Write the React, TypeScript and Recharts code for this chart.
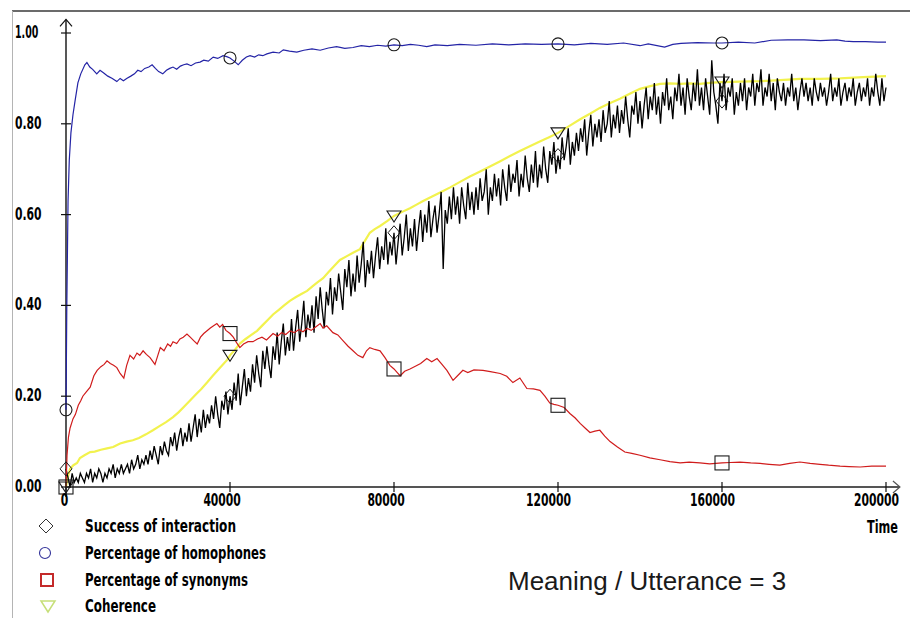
import React from 'react';
import { ComposedChart, Line, Scatter, XAxis, YAxis, ReferenceLine } from 'recharts';

// Axis ticks and marker positions
const timeTicks = [0, 40000, 80000, 120000, 160000, 200000];
const valueTicks = [0, 0.2, 0.4, 0.6, 0.8, 1.0];
const markerTimes = [0, 40000, 80000, 120000, 160000];

// Success of interaction, sampled every 500 time steps
const successStep = 500;
const successValues = [
  0.04, 0.02, 0.00, 0.03, 0.01, 0.02, 0.01, 0.03, 0.02, 0.01,
  0.03, 0.02, 0.04, 0.01, 0.03, 0.02, 0.04, 0.03, 0.01, 0.03,
  0.02, 0.04, 0.03, 0.05, 0.02, 0.04, 0.03, 0.05, 0.03, 0.04,
  0.05, 0.03, 0.06, 0.04, 0.05, 0.07, 0.04, 0.06, 0.05, 0.07,
  0.05, 0.08, 0.06, 0.09, 0.07, 0.05, 0.09, 0.07, 0.10, 0.08,
  0.07, 0.11, 0.09, 0.12, 0.08, 0.11, 0.13, 0.09, 0.12, 0.10,
  0.14, 0.10, 0.13, 0.16, 0.11, 0.15, 0.12, 0.17, 0.13, 0.16,
  0.14, 0.18, 0.15, 0.20, 0.16, 0.13, 0.19, 0.17, 0.21, 0.16,
  0.20, 0.17, 0.23, 0.19, 0.25, 0.18, 0.22, 0.26, 0.20, 0.24,
  0.21, 0.27, 0.23, 0.29, 0.25, 0.22, 0.30, 0.26, 0.31, 0.27,
  0.24, 0.31, 0.28, 0.34, 0.27, 0.32, 0.36, 0.29, 0.33, 0.30,
  0.37, 0.30, 0.35, 0.39, 0.32, 0.36, 0.41, 0.33, 0.38, 0.35,
  0.40, 0.34, 0.42, 0.37, 0.44, 0.39, 0.35, 0.43, 0.40, 0.46,
  0.38, 0.44, 0.41, 0.47, 0.43, 0.39, 0.48, 0.44, 0.50, 0.42,
  0.47, 0.43, 0.51, 0.45, 0.49, 0.54, 0.44, 0.50, 0.47, 0.52,
  0.46, 0.51, 0.55, 0.48, 0.53, 0.50, 0.57, 0.49, 0.54, 0.51,
  0.56, 0.49, 0.54, 0.58, 0.51, 0.55, 0.60, 0.52, 0.57, 0.53,
  0.59, 0.52, 0.57, 0.61, 0.54, 0.60, 0.56, 0.63, 0.55, 0.59,
  0.62, 0.56, 0.60, 0.65, 0.48, 0.61, 0.58, 0.64, 0.59, 0.66,
  0.60, 0.64, 0.58, 0.66, 0.62, 0.59, 0.67, 0.61, 0.65, 0.60,
  0.66, 0.61, 0.68, 0.63, 0.65, 0.70, 0.60, 0.66, 0.63, 0.69,
  0.64, 0.68, 0.62, 0.70, 0.66, 0.63, 0.71, 0.65, 0.69, 0.67,
  0.72, 0.64, 0.69, 0.66, 0.73, 0.68, 0.65, 0.71, 0.67, 0.74,
  0.66, 0.71, 0.68, 0.75, 0.70, 0.67, 0.74, 0.71, 0.76, 0.69,
  0.73, 0.70, 0.77, 0.72, 0.75, 0.79, 0.71, 0.76, 0.73, 0.78,
  0.74, 0.79, 0.76, 0.81, 0.73, 0.78, 0.82, 0.75, 0.80, 0.77,
  0.81, 0.76, 0.83, 0.78, 0.80, 0.85, 0.77, 0.82, 0.79, 0.84,
  0.78, 0.83, 0.80, 0.86, 0.81, 0.77, 0.84, 0.82, 0.87, 0.80,
  0.85, 0.79, 0.84, 0.88, 0.81, 0.86, 0.83, 0.89, 0.82, 0.86,
  0.80, 0.87, 0.84, 0.90, 0.83, 0.86, 0.81, 0.88, 0.85, 0.91,
  0.84, 0.88, 0.82, 0.90, 0.86, 0.83, 0.89, 0.85, 0.92, 0.84,
  0.88, 0.83, 0.90, 0.86, 0.82, 0.94, 0.87, 0.84, 0.80, 0.89,
  0.85, 0.91, 0.83, 0.88, 0.86, 0.90, 0.82, 0.87, 0.84, 0.89,
  0.85, 0.90, 0.83, 0.88, 0.86, 0.91, 0.84, 0.89, 0.87, 0.92,
  0.84, 0.88, 0.86, 0.91, 0.85, 0.89, 0.83, 0.90, 0.87, 0.85,
  0.89, 0.84, 0.88, 0.86, 0.91, 0.85, 0.88, 0.83, 0.87, 0.90,
  0.86, 0.89, 0.85, 0.88, 0.84, 0.90, 0.87, 0.85, 0.89, 0.86,
  0.88, 0.84, 0.87, 0.91, 0.85, 0.88, 0.86, 0.90, 0.84, 0.87,
  0.89, 0.85, 0.88, 0.86, 0.90, 0.84, 0.87, 0.89, 0.85, 0.88,
  0.86, 0.90, 0.84, 0.88, 0.86, 0.91, 0.87, 0.84, 0.90, 0.85,
  0.88,
];

// Percentage of homophones: [time, value]
const homophonePoints: [number, number][] = [
  [0, 0.17], [200, 0.40], [500, 0.63], [800, 0.72], [1200, 0.78], [1700, 0.82],
  [2200, 0.85], [2900, 0.89], [3600, 0.91], [4600, 0.93], [5100, 0.935], [5800, 0.925],
  [6500, 0.92], [7500, 0.91], [8300, 0.918], [9200, 0.912], [10200, 0.905], [11300, 0.9],
  [12400, 0.893], [13200, 0.9], [14000, 0.895], [14800, 0.9], [15800, 0.905], [16700, 0.91],
  [17500, 0.918], [18300, 0.915], [19200, 0.922], [20200, 0.925], [21000, 0.93], [21800, 0.922],
  [22600, 0.915], [23600, 0.91], [24500, 0.918], [25300, 0.922], [26100, 0.925], [27000, 0.92],
  [27900, 0.927], [28700, 0.93], [29500, 0.932], [30500, 0.928], [31600, 0.934], [32700, 0.936],
  [33600, 0.94], [34700, 0.938], [35900, 0.947], [37000, 0.944], [38300, 0.95], [39200, 0.948],
  [40000, 0.945], [41000, 0.938], [42000, 0.93], [43000, 0.94], [44000, 0.947], [44900, 0.95],
  [46000, 0.947], [47000, 0.952], [48000, 0.95], [49000, 0.954], [50500, 0.958], [52000, 0.956],
  [53000, 0.963], [54500, 0.96], [56300, 0.958], [58000, 0.962], [60000, 0.965], [62000, 0.962],
  [64000, 0.967], [66000, 0.97], [68000, 0.966], [70000, 0.968], [72000, 0.972], [74000, 0.97],
  [76000, 0.973], [78000, 0.971], [80000, 0.974], [82000, 0.972], [84000, 0.975], [86000, 0.973],
  [88000, 0.97], [90000, 0.974], [93000, 0.972], [96000, 0.975], [100000, 0.973], [104000, 0.976],
  [108000, 0.974], [112000, 0.976], [116000, 0.975], [120000, 0.976], [124000, 0.974], [128000, 0.977],
  [132000, 0.975], [136000, 0.978], [140000, 0.972], [142000, 0.976], [146000, 0.969], [148000, 0.975],
  [150000, 0.977], [154000, 0.979], [158000, 0.978], [160000, 0.978], [164000, 0.98], [168000, 0.978],
  [172000, 0.984], [176000, 0.985], [180000, 0.985], [184000, 0.983], [188000, 0.985], [190000, 0.982],
  [192000, 0.981], [195000, 0.981], [198000, 0.98], [200000, 0.98],
];

// Percentage of synonyms: [time, value]
const synonymPoints: [number, number][] = [
  [0, 0.0], [250, 0.07], [600, 0.11], [1000, 0.13], [1700, 0.15], [2300, 0.16],
  [3000, 0.18], [3600, 0.19], [4100, 0.2], [5000, 0.21], [5900, 0.22], [6800, 0.245],
  [7600, 0.257], [8500, 0.265], [9300, 0.27], [10000, 0.278], [10800, 0.272], [11600, 0.268],
  [12400, 0.263], [13200, 0.25], [14100, 0.24], [14800, 0.268], [15600, 0.29], [16500, 0.282],
  [17300, 0.295], [18000, 0.29], [18800, 0.3], [19600, 0.292], [20500, 0.285], [21700, 0.27],
  [22400, 0.29], [23000, 0.307], [23900, 0.3], [24800, 0.315], [25500, 0.31], [26100, 0.32],
  [27000, 0.316], [27800, 0.326], [28600, 0.33], [29500, 0.337], [30300, 0.33], [31200, 0.322],
  [32000, 0.315], [32800, 0.33], [33600, 0.338], [34400, 0.344], [35200, 0.35], [36000, 0.355],
  [36800, 0.36], [37500, 0.352], [38200, 0.358], [39000, 0.345], [40000, 0.338], [40800, 0.33],
  [41600, 0.318], [42400, 0.307], [43300, 0.315], [44400, 0.32], [45600, 0.32], [46700, 0.326],
  [47800, 0.33], [48900, 0.324], [50500, 0.338], [51600, 0.332], [52600, 0.34], [53600, 0.336],
  [54600, 0.344], [55700, 0.34], [56800, 0.347], [57800, 0.342], [58800, 0.349], [59800, 0.345],
  [60800, 0.352], [62000, 0.36], [62700, 0.35], [63600, 0.355], [65100, 0.34], [66300, 0.335],
  [67600, 0.322], [68800, 0.31], [70000, 0.3], [71200, 0.29], [72400, 0.285], [73300, 0.3],
  [74100, 0.307], [75300, 0.303], [76600, 0.3], [77800, 0.285], [79000, 0.268], [80000, 0.26],
  [80800, 0.252], [81500, 0.245], [82600, 0.255], [83900, 0.26], [85200, 0.266], [86500, 0.272],
  [88000, 0.283], [89200, 0.276], [90500, 0.283], [91700, 0.27], [92900, 0.257], [94400, 0.235],
  [95500, 0.245], [96800, 0.257], [98000, 0.252], [99500, 0.258], [101700, 0.257], [103500, 0.254],
  [105900, 0.25], [107500, 0.244], [109000, 0.23], [110700, 0.24], [112400, 0.217], [114000, 0.216],
  [115600, 0.213], [116800, 0.2], [118000, 0.185], [119000, 0.182], [120000, 0.18], [121500, 0.175],
  [122900, 0.162], [124200, 0.152], [125400, 0.14], [126600, 0.13], [127800, 0.12], [129000, 0.123],
  [130200, 0.125], [131400, 0.112], [132700, 0.1], [134500, 0.088], [136300, 0.077], [138000, 0.074],
  [140000, 0.07], [142400, 0.064], [144900, 0.06], [147300, 0.056], [149800, 0.053], [152000, 0.055],
  [154600, 0.053], [157000, 0.051], [160000, 0.053], [162000, 0.054], [164400, 0.055], [167000, 0.053],
  [169300, 0.052], [171500, 0.05], [174100, 0.048], [176500, 0.052], [179000, 0.055], [181500, 0.052],
  [183900, 0.05], [186000, 0.048], [188800, 0.046], [191000, 0.045], [193700, 0.044], [196500, 0.046],
  [199500, 0.046], [200000, 0.046],
];

// Coherence: [time, value]
const coherencePoints: [number, number][] = [
  [0, 0.0], [500, 0.025], [1000, 0.04], [1800, 0.048], [2700, 0.053], [3400, 0.064],
  [4500, 0.07], [5900, 0.077], [7000, 0.078], [8500, 0.082], [10000, 0.085], [11500, 0.088],
  [13200, 0.096], [14800, 0.1], [16300, 0.103], [17800, 0.108], [19500, 0.116], [21200, 0.125],
  [22800, 0.134], [24400, 0.143], [26100, 0.154], [27500, 0.165], [28900, 0.178], [30200, 0.19],
  [31600, 0.203], [33000, 0.216], [34400, 0.23], [35800, 0.245], [37500, 0.262], [39300, 0.28],
  [40000, 0.29], [41200, 0.302], [42400, 0.316], [43800, 0.326], [45200, 0.335], [46600, 0.344],
  [47900, 0.356], [49200, 0.368], [50500, 0.38], [51900, 0.39], [53200, 0.4], [54600, 0.41],
  [56000, 0.418], [57400, 0.425], [58800, 0.432], [60100, 0.442], [61400, 0.451], [62700, 0.46],
  [64100, 0.474], [65400, 0.487], [66800, 0.5], [68400, 0.508], [70000, 0.516], [71700, 0.524],
  [72900, 0.542], [74100, 0.56], [75300, 0.568], [76600, 0.575], [78400, 0.586], [80000, 0.597],
  [82000, 0.606], [83900, 0.614], [85500, 0.622], [87100, 0.63], [89300, 0.64], [91500, 0.65],
  [93700, 0.66], [96100, 0.672], [98500, 0.684], [101000, 0.695], [103400, 0.706], [105800, 0.717],
  [108300, 0.729], [110700, 0.74], [113000, 0.75], [115300, 0.76], [117700, 0.77], [120000, 0.78],
  [122700, 0.795], [125400, 0.81], [127800, 0.822], [130200, 0.835], [132600, 0.845], [135100, 0.855],
  [137500, 0.866], [140000, 0.877], [142500, 0.883], [144900, 0.888], [147300, 0.889], [149800, 0.888],
  [152200, 0.889], [154600, 0.888], [157000, 0.89], [159500, 0.892], [160000, 0.892], [164400, 0.893],
  [169300, 0.894], [174100, 0.896], [179000, 0.899], [183900, 0.899], [188800, 0.9], [194400, 0.903],
  [200000, 0.905],
];

const legendLabels = [
  'Success of interaction',
  'Percentage of homophones',
  'Percentage of synonyms',
  'Coherence',
];
const captionText = 'Meaning / Utterance = 3';
const axisTitle = 'Time';

type Row = { t: number; v: number };
const fromPairs = (pairs: [number, number][]): Row[] => pairs.map(([t, v]) => ({ t, v }));
const pickMarkers = (rows: Row[]): Row[] => rows.filter((r) => markerTimes.includes(r.t));

const successData: Row[] = successValues.map((v, i) => ({ t: i * successStep, v }));
const homophoneData = fromPairs(homophonePoints);
const synonymData = fromPairs(synonymPoints);
const coherenceData = fromPairs(coherencePoints);

const COLORS = {
  success: '#000000',
  homophones: '#2424a6',
  synonyms: '#d01c1c',
  coherence: '#f2f24e',
};

const LABEL_FONT = "'DejaVu Sans Condensed', 'DejaVu Sans', sans-serif";
const NARROW = 0.7;
const W = 910;
const H = 618;

// Bold, horizontally squeezed label text
function NarrowText(props: { x: number; y: number; text: string; width: number; anchor?: string; size?: number }) {
  const { x, y, text, width, anchor = 'start', size = 17.5 } = props;
  return (
    <text
      transform={`translate(${x},${y}) scale(${NARROW},1)`}
      x={0}
      y={0}
      textAnchor={anchor as any}
      fontFamily={LABEL_FONT}
      fontWeight="bold"
      fontSize={size}
      textLength={width / NARROW}
      lengthAdjust="spacingAndGlyphs"
      fill="#000"
    >
      {text}
    </text>
  );
}

const glyphWidth = (s: string) =>
  s.split('').reduce((w, c) => w + (c === '.' ? 3.5 : c === '1' ? 4.5 : 7.7), 0);

const YTick = (props: any) => {
  const { x, y, payload } = props;
  const label = Number(payload.value).toFixed(2);
  return (
    <g>
      <line x1={x - 5} x2={x + 5} y1={y} y2={y} stroke="#111" strokeWidth={1.2} />
      <NarrowText x={x - 51} y={y + 5} text={label} width={glyphWidth(label)} />
    </g>
  );
};

const XTick = (props: any) => {
  const { x, y, payload } = props;
  const label = String(payload.value);
  const w = label.length * 7.5;
  return (
    <g>
      <line x1={x} x2={x} y1={y - 5} y2={y + 5} stroke="#111" strokeWidth={1.2} />
      <NarrowText x={x - w * 0.71} y={y + 19} text={label} width={w} />
    </g>
  );
};

// Axis line with an open arrowhead at its far end
const arrowAxis = (color: string, width: number) => (props: any) => {
  const { x1, y1, x2, y2 } = props;
  const dx = x2 - x1;
  const dy = y2 - y1;
  const len = Math.hypot(dx, dy) || 1;
  const ux = dx / len;
  const uy = dy / len;
  const back = 7;
  const side = 6;
  const ax = x2 - ux * back;
  const ay = y2 - uy * back;
  return (
    <g>
      <line x1={x1} y1={y1} x2={x2} y2={y2} stroke={color} strokeWidth={width} />
      <polyline
        points={`${ax - uy * side},${ay + ux * side} ${x2},${y2} ${ax + uy * side},${ay - ux * side}`}
        fill="none"
        stroke={color}
        strokeWidth={1.2}
      />
    </g>
  );
};

const markerStroke = '#1a1a1a';
const diamondShape = (p: any) => (
  <path d={`M${p.cx},${p.cy - 7} L${p.cx + 6},${p.cy} L${p.cx},${p.cy + 7} L${p.cx - 6},${p.cy} Z`} fill="none" stroke={markerStroke} strokeWidth={1} />
);
const circleShape = (p: any) => <circle cx={p.cx} cy={p.cy} r={6} fill="none" stroke={markerStroke} strokeWidth={1.1} />;
const squareShape = (p: any) => <rect x={p.cx - 7} y={p.cy - 7} width={14} height={14} fill="none" stroke={markerStroke} strokeWidth={1.1} />;
const triangleShape = (p: any) => (
  <path d={`M${p.cx - 7},${p.cy - 5} L${p.cx + 7},${p.cy - 5} L${p.cx},${p.cy + 6} Z`} fill="none" stroke={markerStroke} strokeWidth={1.1} />
);

function Overlay() {
  const rows = [526, 553, 580, 606];
  return (
    <svg width={W} height={H} style={{ position: 'absolute', left: 0, top: 0, pointerEvents: 'none' }}>
      <line x1={12} y1={11} x2={W} y2={11} stroke="#3a3a3a" strokeWidth={1.5} />
      <line x1={12.5} y1={11} x2={12.5} y2={H} stroke="#b4b4b4" strokeWidth={1} />

      <path d={`M46,${rows[0] - 7} L53,${rows[0]} L46,${rows[0] + 7} L39,${rows[0]} Z`} fill="none" stroke="#333" strokeWidth={1} />
      <circle cx={45} cy={rows[1]} r={5.5} fill="none" stroke="#34349a" strokeWidth={1.1} />
      <rect x={41} y={rows[2] - 6} width={12} height={12} fill="none" stroke="#c42a2a" strokeWidth={2} />
      <path d={`M41,${rows[3] - 5} L55,${rows[3] - 5} L48,${rows[3] + 6} Z`} fill="none" stroke="#c6df78" strokeWidth={1.5} />

      <NarrowText x={85} y={rows[0] + 6} text={legendLabels[0]} width={151} />
      <NarrowText x={85} y={rows[1] + 6} text={legendLabels[1]} width={181} />
      <NarrowText x={85} y={rows[2] + 6} text={legendLabels[2]} width={163} />
      <NarrowText x={85} y={rows[3] + 6} text={legendLabels[3]} width={71} />

      <NarrowText x={898} y={533} text={axisTitle} width={31} anchor="end" />

      <text x={508} y={590} fontFamily="'Liberation Sans', Arial, sans-serif" fontSize={26} fill="#1a1a1a">
        {captionText}
      </text>
    </svg>
  );
}

export default function App() {
  return (
    <div style={{ position: 'absolute', left: 0, top: 0, width: W, height: H, background: '#fff' }}>
      <ComposedChart width={W} height={H} margin={{ top: 33, right: 24, bottom: 101, left: 6 }}>
        <XAxis
          dataKey="t"
          type="number"
          domain={[0, 200000]}
          ticks={timeTicks}
          interval={0}
          height={30}
          tickSize={0}
          tickMargin={0}
          axisLine={false}
          tickLine={false}
          tick={XTick}
        />
        <YAxis
          dataKey="v"
          type="number"
          domain={[0, 1]}
          ticks={valueTicks}
          interval={0}
          width={60}
          tickSize={0}
          tickMargin={0}
          axisLine={false}
          tickLine={false}
          tick={YTick}
        />
        <ReferenceLine
          segment={[{ x: 0, y: -0.022 }, { x: 0, y: 1.03 }]}
          ifOverflow="visible"
          shape={arrowAxis('#111', 1.4)}
        />
        <ReferenceLine
          segment={[{ x: 0, y: 0 }, { x: 203400, y: 0 }]}
          ifOverflow="visible"
          shape={arrowAxis('#555', 2)}
        />
        <Line data={coherenceData} dataKey="v" type="linear" stroke={COLORS.coherence} strokeWidth={2.2} dot={false} activeDot={false} isAnimationActive={false} />
        <Line data={successData} dataKey="v" type="linear" stroke={COLORS.success} strokeWidth={1.3} dot={false} activeDot={false} isAnimationActive={false} />
        <Line data={synonymData} dataKey="v" type="linear" stroke={COLORS.synonyms} strokeWidth={1.2} dot={false} activeDot={false} isAnimationActive={false} />
        <Line data={homophoneData} dataKey="v" type="linear" stroke={COLORS.homophones} strokeWidth={1.2} dot={false} activeDot={false} isAnimationActive={false} />
        <Scatter data={pickMarkers(successData)} dataKey="v" shape={diamondShape} isAnimationActive={false} />
        <Scatter data={pickMarkers(homophoneData)} dataKey="v" shape={circleShape} isAnimationActive={false} />
        <Scatter data={pickMarkers(synonymData)} dataKey="v" shape={squareShape} isAnimationActive={false} />
        <Scatter data={pickMarkers(coherenceData)} dataKey="v" shape={triangleShape} isAnimationActive={false} />
      </ComposedChart>
      <Overlay />
    </div>
  );
}
